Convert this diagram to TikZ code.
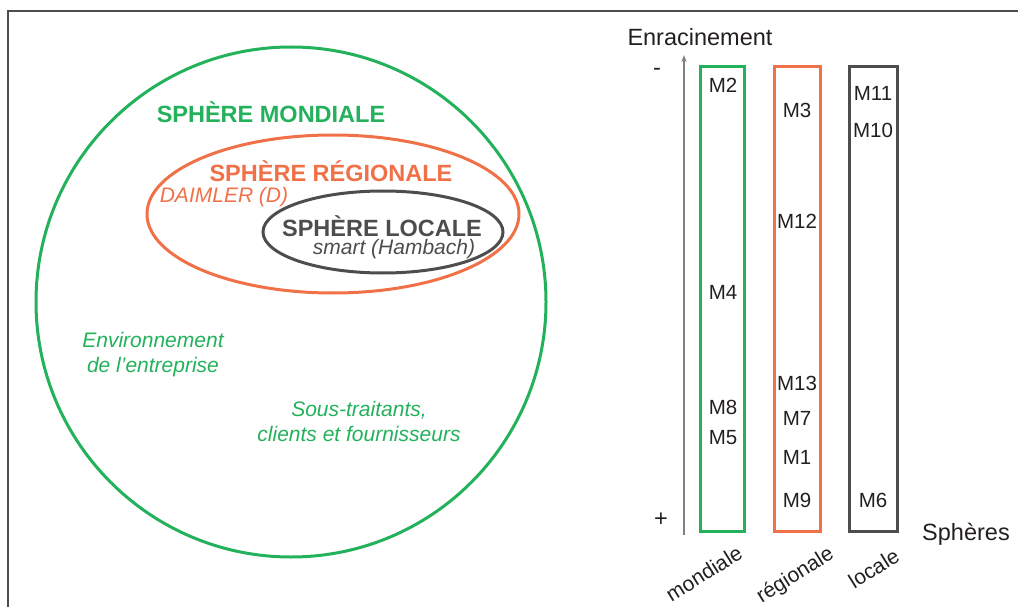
\documentclass[tikz,border=0pt]{standalone}
\usepackage{fontspec}
\setmainfont{Liberation Sans}
\usetikzlibrary{arrows.meta}

\definecolor{mondial}{RGB}{35,177,92}
\definecolor{regional}{RGB}{240,112,72}
\definecolor{local}{RGB}{77,77,77}
\definecolor{encre}{RGB}{35,31,32}

\begin{document}
\begin{tikzpicture}[
    x=1pt, y=-1pt,
    >={Stealth[length=7pt, width=5pt]},
    sphere/.style={line width=3pt},
    titre/.style={font=\fontsize{23.5}{26}\selectfont\bfseries, inner sep=0pt},
    legende/.style={font=\fontsize{21}{25}\selectfont\itshape, align=center, inner sep=0pt},
    colonne/.style={draw, line width=3pt, minimum height=465pt, inner sep=0pt},
    mlbl/.style={font=\fontsize{20.5}{22}\selectfont, text=encre, inner sep=0pt},
    axelbl/.style={font=\fontsize{23.5}{26}\selectfont, text=encre, inner sep=0pt},
    collbl/.style={font=\fontsize{21}{23}\selectfont, text=encre, rotate=32, inner sep=0pt}
]
\useasboundingbox (0,0) rectangle (1018,607);

% --- Frame (top and left edges only) ---
\draw[local, line width=1.3pt] (8,607) -- (8,11) -- (1018,11);

% --- Nested spheres ---
\draw[sphere, mondial]  (291,302) circle (255);
\draw[sphere, regional] (333,214) ellipse (186 and 79);
\draw[sphere, local]    (383,232) ellipse (120 and 41);

\node[titre, text=mondial]  (tmond) at (271,112) {SPHÈRE MONDIALE};
\node[titre, text=regional] (treg)  at (331,171) {SPHÈRE RÉGIONALE};
\node[legende, text=regional] (daim) at (224,197) {DAIMLER (D)};
\node[titre, text=local]    (tloc)  at (382,226) {SPHÈRE LOCALE};
\node[legende, text=local]  (smart) at (394,249) {smart (Hambach)};

\node[legende, text=mondial] (envt) at (153,355) {Environnement\\de l’entreprise};
\node[legende, text=mondial] (sous) at (359,421) {Sous-traitants,\\clients et fournisseurs};

% --- Axis ---
\coordinate (axebas)  at (684,535);
\coordinate (axehaut) at (684,55);
\draw[->, black!50, line width=1.2pt] (axebas) -- (axehaut);
\node[axelbl] (enrac) at (700,37) {Enracinement};
\node[axelbl] (moins) at (657,72) {-};
\node[axelbl] (plus)  at (661,520) {+};
\node[axelbl] (spher) at (966,534) {Sphères};

% --- Columns ---
\node[colonne, draw=mondial,  minimum width=44pt] (cmond) at (722.5,299.3) {};
\node[colonne, draw=regional, minimum width=46pt] (creg)  at (797.2,299.3) {};
\node[colonne, draw=local,    minimum width=48pt] (cloc)  at (873.7,299.3) {};

\node[collbl, anchor=north east] (lmond) at (736,544) {mondiale};
\node[collbl, anchor=north east] (lreg)  at (827,544) {régionale};
\node[collbl, anchor=north east] (lloc)  at (893,547) {locale};

% --- Items ---
\node[mlbl] (m2)  at (723,85)  {M2};
\node[mlbl] (m4)  at (723,292) {M4};
\node[mlbl] (m8)  at (723,407) {M8};
\node[mlbl] (m5)  at (723,438) {M5};

\node[mlbl] (m3)  at (797,110) {M3};
\node[mlbl] (m12) at (797,221) {M12};
\node[mlbl] (m13) at (797,383) {M13};
\node[mlbl] (m7)  at (797,418) {M7};
\node[mlbl] (m1)  at (797,457) {M1};
\node[mlbl] (m9)  at (797,500) {M9};

\node[mlbl] (m11) at (873,93)  {M11};
\node[mlbl] (m10) at (873,130) {M10};
\node[mlbl] (m6)  at (873,500) {M6};

\end{tikzpicture}
\end{document}
